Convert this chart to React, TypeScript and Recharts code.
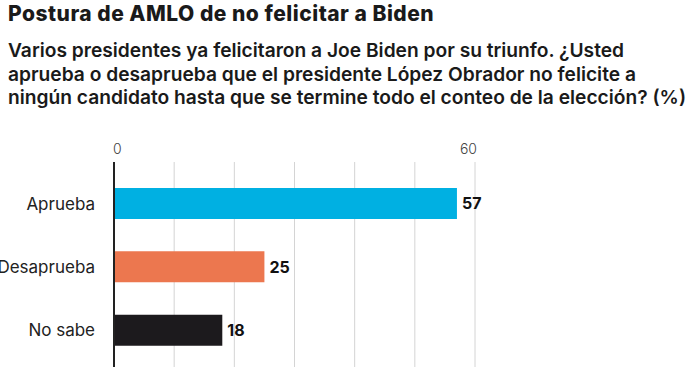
import { BarChart, Bar, XAxis, YAxis, CartesianGrid, Cell, LabelList } from 'recharts'

// Encuesta: postura de AMLO de no felicitar a Biden (%)
const CATEGORIES = ['Aprueba', 'Desaprueba', 'No sabe']
const VALUES = [57, 25, 18]
const COLORS = ['#00b0e2', '#ec774f', '#1c1a1d']
const X_TICKS = [0, 10, 20, 30, 40, 50, 60]
const SHOWN_TICKS = [0, 60]

const TITLE = 'Postura de AMLO de no felicitar a Biden'
const SUBTITLE_LINES = [
  'Varios presidentes ya felicitaron a Joe Biden por su triunfo. ¿Usted',
  'aprueba o desaprueba que el presidente López Obrador no felicite a',
  'ningún candidato hasta que se termine todo el conteo de la elección? (%)',
]

const FONT = 'Inter, Roboto, sans-serif'

// only 0 and 60 get a label; first one hangs right, last one hangs left
function TopTick({ x, y, payload }: { x?: number; y?: number; payload?: { value: number } }) {
  const v = payload?.value ?? 0
  if (!SHOWN_TICKS.includes(v)) return null
  const isFirst = v === SHOWN_TICKS[0]
  return (
    <text
      x={(x ?? 0) + (isFirst ? -1 : 2)}
      y={y}
      textAnchor={isFirst ? 'start' : 'end'}
      fill="#444"
      fontSize={14}
      fontWeight={300}
      fontFamily={FONT}
    >
      {v}
    </text>
  )
}

export default function App() {
  const data = CATEGORIES.map((name, i) => ({ name, value: VALUES[i], color: COLORS[i] }))

  return (
    <div
      style={{
        position: 'absolute',
        left: 0,
        top: 0,
        width: 695,
        height: 392,
        background: '#fff',
        overflow: 'hidden',
        fontFamily: FONT,
      }}
    >
      <div
        style={{
          position: 'absolute',
          left: 8,
          top: 4,
          fontSize: 21,
          lineHeight: '20px',
          fontWeight: 800,
          letterSpacing: 0.5,
          color: '#1a1a1a',
          whiteSpace: 'nowrap',
        }}
      >
        {TITLE}
      </div>
      <div
        style={{
          position: 'absolute',
          left: 8,
          top: 39,
          fontSize: 19.2,
          lineHeight: '23.5px',
          fontWeight: 600,
          color: '#1a1a1a',
          whiteSpace: 'nowrap',
        }}
      >
        {SUBTITLE_LINES.map((line) => (
          <div key={line}>{line}</div>
        ))}
      </div>

      <div style={{ position: 'absolute', left: 0, top: 0 }}>
        <BarChart
          width={695}
          height={392}
          data={data}
          layout="vertical"
          margin={{ top: 132, right: 220, bottom: 25, left: 0 }}
        >
          <CartesianGrid horizontal={false} stroke="#d4d4d4" strokeWidth={1} />
          <XAxis
            type="number"
            orientation="top"
            domain={[0, 60]}
            ticks={X_TICKS}
            axisLine={false}
            tickLine={false}
            height={30}
            tick={<TopTick />}
          />
          <YAxis
            type="category"
            dataKey="name"
            width={114}
            axisLine={{ stroke: '#222', strokeWidth: 2 }}
            tickLine={false}
            tickSize={0}
            tickMargin={19}
            padding={{ top: 10, bottom: 5 }}
            tick={{ fill: '#222', fontSize: 17, fontFamily: FONT }}
          />
          <Bar dataKey="value" barSize={31} isAnimationActive={false}>
            {data.map((d) => (
              <Cell key={d.name} fill={d.color} />
            ))}
            <LabelList
              dataKey="value"
              position="right"
              offset={5}
              fill="#111"
              style={{ fontSize: 16, fontWeight: 700, fontFamily: FONT }}
            />
          </Bar>
        </BarChart>
      </div>
    </div>
  )
}
